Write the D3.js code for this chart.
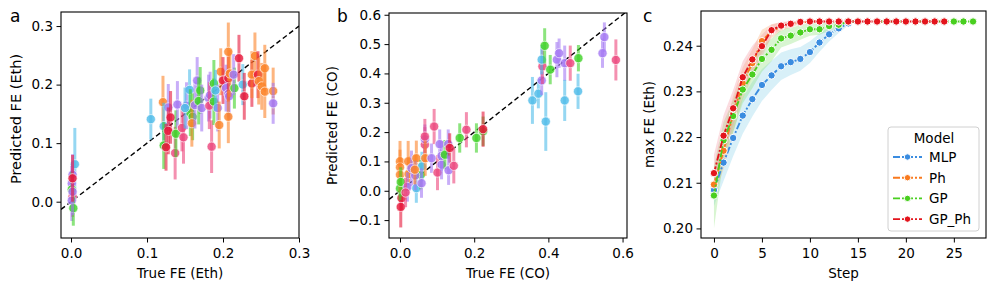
<!DOCTYPE html>
<html><head><meta charset="utf-8">
<script src="https://cdn.jsdelivr.net/npm/d3@7"></script>
<style>
body{margin:0;background:#fff;}
svg text{font-family:"DejaVu Sans",sans-serif;fill:#000;}
</style></head>
<body><svg id="c" width="996" height="291"></svg>
<script>
// ---------- Panel a data (True FE Eth, predicted, error, group) ----------
const aTrue = [0.005,0.002,0.001,0.001,0.002,0.001,0.003,0.002,0.002,
 0.105,0.121,0.128,0.122,0.122,0.131,0.128,0.125,0.137,0.138,0.140,0.146,0.148,0.152,0.156,0.157,0.160,0.159,0.163,0.166,0.170,0.168,0.172,0.181,0.183,0.182,0.185,0.188,0.188,0.193,0.195,0.197,0.200,0.204,0.207,0.208,0.207,0.207,0.207,0.209,0.215,0.214,0.221,0.226,0.228,0.238,0.238,0.242,0.246,0.247,0.251,0.255,0.255,0.266,0.266,0.190,0.150];
const aPred = [0.064,0.046,0.031,0.021,0.009,0.002,-0.011,0.017,0.040,
 0.141,0.170,0.161,0.129,0.096,0.144,0.121,0.093,0.083,0.116,0.166,0.126,0.110,0.164,0.191,0.152,0.145,0.134,0.165,0.207,0.190,0.172,0.160,0.177,0.182,0.164,0.094,0.202,0.171,0.160,0.131,0.222,0.207,0.194,0.184,0.180,0.211,0.145,0.256,0.219,0.194,0.217,0.245,0.200,0.180,0.202,0.217,0.249,0.217,0.206,0.197,0.228,0.188,0.189,0.168,0.190,0.160];
const aErr = [0.062,0.035,0.03,0.03,0.035,0.035,0.03,0.04,0.04,
 0.035,0.045,0.04,0.04,0.04,0.045,0.04,0.04,0.045,0.04,0.04,0.04,0.045,0.04,0.035,0.04,0.04,0.04,0.04,0.04,0.04,0.04,0.04,0.04,0.04,0.04,0.045,0.04,0.04,0.04,0.04,0.04,0.04,0.04,0.04,0.04,0.04,0.045,0.05,0.04,0.035,0.035,0.04,0.035,0.04,0.04,0.04,0.04,0.04,0.04,0.04,0.04,0.045,0.04,0.035,0.035,0.035];
const aGroup = [0,3,3,2,5,3,2,3,4,
 0,1,3,0,2,4,4,4,5,2,3,5,5,3,0,2,2,1,3,3,2,2,3,3,3,5,5,2,2,3,1,1,4,3,3,3,4,1,1,1,2,3,4,0,4,4,1,1,4,1,1,1,1,1,3,0,0];

// ---------- Panel b data (True FE CO, predicted, error, group) ----------
const bTrue = [0.004,0.002,0.000,0.000,0.000,0.000,0.002,0.022,0.023,0.020,0.015,0.031,0.044,0.044,0.056,0.041,0.059,0.058,0.067,0.067,0.067,0.068,0.092,0.085,0.101,0.107,0.112,0.112,0.121,0.130,0.134,0.131,0.145,0.161,0.179,0.206,0.224,0.224,0.040,
 0.357,0.373,0.382,0.384,0.382,0.390,0.393,0.405,0.423,0.429,0.444,0.444,0.459,0.481,0.480,0.546,0.551,0.582];
const bPred = [-0.025,-0.055,0.008,0.100,0.080,0.055,0.030,0.100,0.057,0.013,-0.006,0.077,0.111,0.009,0.055,0.052,0.083,0.026,0.157,0.176,0.185,0.111,0.219,0.111,0.062,0.159,0.089,0.119,0.123,0.159,0.146,0.070,0.085,0.180,0.208,0.180,0.203,0.210,0.072,
 0.308,0.331,0.376,0.424,0.447,0.494,0.236,0.413,0.447,0.469,0.435,0.308,0.435,0.452,0.339,0.469,0.524,0.446];
const bErr = [0.04,0.07,0.04,0.07,0.06,0.06,0.05,0.07,0.06,0.05,0.05,0.06,0.06,0.05,0.05,0.05,0.05,0.05,0.06,0.05,0.06,0.06,0.06,0.05,0.06,0.05,0.05,0.05,0.05,0.05,0.05,0.05,0.06,0.05,0.06,0.05,0.05,0.06,0.05,
 0.08,0.05,0.05,0.06,0.05,0.06,0.10,0.05,0.06,0.05,0.06,0.07,0.06,0.045,0.06,0.05,0.05,0.07];
const bGroup = [4,4,2,1,1,1,2,1,1,3,5,3,1,0,2,3,0,3,5,3,5,1,5,3,5,3,3,3,2,3,4,3,5,2,5,2,2,4,1,
 0,0,3,5,0,2,0,2,3,3,3,0,5,2,0,3,3,5];

const groupColors = ["#4fbce9","#fb842a","#3fd228","#a478f3","#e6173a","#ec467c"];

// ---------- Panel c data ----------
const models = ["MLP","Ph","GP","GP_Ph"];
const modelColors = ["#3a8ce0","#f97a1e","#49cf1f","#e3141c"];
const bandColors = ["#8fd3ec","#f9b07a","#8ee27c","#f39aa6"];
const mlpMean = [0.2084,0.2144,0.2198,0.2247,0.2283,0.2314,0.2335,0.2355,0.2364,0.2371,0.2386,0.2407,0.2425,0.2438,0.2449];
const mlpLow  = [0.2049,0.2104,0.2158,0.2207,0.2245,0.2279,0.2303,0.2325,0.2336,0.2345,0.2362,0.2387,0.2409,0.2428,0.2444];
const mlpHigh = [0.2119,0.2184,0.2238,0.2287,0.2321,0.2349,0.2367,0.2385,0.2392,0.2397,0.2410,0.2427,0.2441,0.2448,0.2453];
const phMean = [0.2096,0.2170,0.2250,0.2318,0.2362,0.2410,0.2432,0.2442,0.2447,0.2451,0.2453,0.2453,0.2453,0.2453];
const phLow  = [0.2066,0.2130,0.2210,0.2283,0.2332,0.2385,0.2417,0.2432,0.2440,0.2447,0.2451,0.2453,0.2453,0.2453];
const phHigh = [0.2126,0.2210,0.2290,0.2353,0.2392,0.2435,0.2447,0.2452,0.2453,0.2454,0.2454,0.2453,0.2453,0.2453];
const gpMean = [0.2072,0.2193,0.2246,0.2304,0.2337,0.2371,0.2391,0.2416,0.2422,0.2429,0.2436,0.2436,0.2443,0.2446,0.2453,0.2453,0.2453,0.2453,0.2453,0.2453,0.2453,0.2453,0.2453,0.2453,0.2453,0.2453,0.2453,0.2453];
const gpLow  = [0.2000,0.2153,0.2211,0.2274,0.2307,0.2343,0.2366,0.2396,0.2404,0.2413,0.2422,0.2424,0.2433,0.2439,0.2453,0.2453,0.2453,0.2453,0.2453,0.2453,0.2453,0.2453,0.2453,0.2453,0.2453,0.2453,0.2453,0.2453];
const gpHigh = [0.2137,0.2233,0.2281,0.2334,0.2367,0.2399,0.2416,0.2436,0.2440,0.2445,0.2450,0.2448,0.2453,0.2453,0.2453,0.2453,0.2453,0.2453,0.2453,0.2453,0.2453,0.2453,0.2453,0.2453,0.2453,0.2453,0.2453,0.2453];
const gpphMean = [0.2121,0.2203,0.2263,0.2331,0.2370,0.2399,0.2434,0.2444,0.2448,0.2452,0.2453,0.2453,0.2453,0.2453,0.2453,0.2453,0.2453,0.2453,0.2453,0.2453,0.2453,0.2453,0.2453,0.2453,0.2453];
const gpphLow  = [0.2081,0.2158,0.2223,0.2296,0.2340,0.2374,0.2422,0.2436,0.2443,0.2450,0.2453,0.2453,0.2453,0.2453,0.2453,0.2453,0.2453,0.2453,0.2453,0.2453,0.2453,0.2453,0.2453,0.2453,0.2453];
const gpphHigh = [0.2161,0.2248,0.2303,0.2366,0.2400,0.2424,0.2446,0.2452,0.2453,0.2454,0.2453,0.2453,0.2453,0.2453,0.2453,0.2453,0.2453,0.2453,0.2453,0.2453,0.2453,0.2453,0.2453,0.2453,0.2453];

const aTicks = [0.0,0.1,0.2,0.3];
const bXTicks = [0.0,0.2,0.4,0.6];
const bYTicks = [-0.1,0.0,0.1,0.2,0.3,0.4,0.5,0.6];
const cXTicks = [0,5,10,15,20,25];
const cYTicks = [0.20,0.21,0.22,0.23,0.24];

const svg = d3.select("#c");
const FS = 13.5;

function frame(g, x, y, xt, yt, xfmt, yfmt, xlabel, ylabel, letter, letterX, ylabX, ylabY, ylabFS) {
  const [x0,x1] = x.range(), [y1,y0] = y.range();
  const xa = g.append("g").attr("transform",`translate(0,${y1})`)
    .call(d3.axisBottom(x).tickValues(xt).tickFormat(xfmt).tickSize(4.5).tickPadding(5.5));
  const ya = g.append("g").attr("transform",`translate(${x0},0)`)
    .call(d3.axisLeft(y).tickValues(yt).tickFormat(yfmt).tickSize(4.5).tickPadding(3.5));
  [xa,ya].forEach(a=>{a.select(".domain").remove();a.selectAll("text").style("font-size",FS+"px").attr("fill","#000");a.selectAll("line").attr("stroke","#000").attr("stroke-width",1);});
  g.append("rect").attr("x",x0).attr("y",y0).attr("width",x1-x0).attr("height",y1-y0)
    .attr("fill","none").attr("stroke","#000").attr("stroke-width",1.1);
  g.append("text").attr("x",(x0+x1)/2).attr("y",278).attr("text-anchor","middle").style("font-size",FS+"px").text(xlabel);
  g.append("text").attr("transform",`translate(${ylabX},${ylabY}) rotate(-90)`).attr("text-anchor","middle").style("font-size",ylabFS+"px").text(ylabel);
  g.append("text").attr("x",letterX).attr("y",22).style("font-size","17px").text(letter);
}

function scatterPanel(g, x, y, tv, pv, ev, gv, clipId) {
  const [x0,x1] = x.range(), [y1,y0] = y.range();
  g.append("clipPath").attr("id",clipId).append("rect").attr("x",x0).attr("y",y0).attr("width",x1-x0).attr("height",y1-y0);
  const p = g.append("g").attr("clip-path",`url(#${clipId})`);
  const idx = d3.range(tv.length);
  const d0 = x.domain();
  p.append("line").attr("x1",x(d0[0])).attr("y1",y(d0[0])).attr("x2",x(d0[1])).attr("y2",y(d0[1]))
    .attr("stroke","#000").attr("stroke-width",1.4).attr("stroke-dasharray","5,3");
  idx.forEach(i=>{
    p.append("line").attr("x1",x(tv[i])).attr("x2",x(tv[i])).attr("y1",y(pv[i]-ev[i])).attr("y2",y(pv[i]+ev[i]))
      .attr("stroke",groupColors[gv[i]]).attr("stroke-width",3).attr("stroke-opacity",0.6);
    p.append("circle").attr("cx",x(tv[i])).attr("cy",y(pv[i])).attr("r",4.6)
      .attr("fill",groupColors[gv[i]]).attr("fill-opacity",0.82).attr("stroke","#fff").attr("stroke-width",0.8).attr("stroke-opacity",0.8);
  });
}

// Panel a
{
  const g = svg.append("g");
  const x = d3.scaleLinear().domain([-0.0132,0.3]).range([61,299]);
  const y = d3.scaleLinear().domain([-0.062,0.324]).range([238,12]);
  scatterPanel(g,x,y,aTrue,aPred,aErr,aGroup,"clipA");
  frame(g,x,y,aTicks,aTicks,d3.format(".1f"),d3.format(".1f"),"True FE (Eth)","Predicted FE (Eth)","a",10,21,119,14.5);
}
// Panel b
{
  const g = svg.append("g");
  const x = d3.scaleLinear().domain([-0.0297,0.612]).range([389,627]);
  const y = d3.scaleLinear().domain([-0.161,0.606]).range([238,13]);
  scatterPanel(g,x,y,bTrue,bPred,bErr,bGroup,"clipB");
  frame(g,x,y,bXTicks,bYTicks,d3.format(".1f"),v=>d3.format(".1f")(v).replace("-","\u2212"),"True FE (CO)","Predicted FE (CO)","b",337,337,125.5,FS);
}
// Panel c
{
  const g = svg.append("g");
  const x = d3.scaleLinear().domain([-1.35,28.35]).range([701,986]);
  const y = d3.scaleLinear().domain([0.1979,0.2476]).range([238,11]);
  const series = [[mlpMean,mlpLow,mlpHigh],[phMean,phLow,phHigh],[gpMean,gpLow,gpHigh],[gpphMean,gpphLow,gpphHigh]];
  series.forEach((s,k)=>{
    const area = d3.area().x((d,i)=>x(i)).y0((d,i)=>y(s[1][i])).y1((d,i)=>y(s[2][i]));
    g.append("path").attr("d",area(s[0])).attr("fill",bandColors[k]).attr("fill-opacity",0.35);
  });
  series.forEach((s,k)=>{
    const line = d3.line().x((d,i)=>x(i)).y(d=>y(d));
    g.append("path").attr("d",line(s[0])).attr("fill","none").attr("stroke",modelColors[k]).attr("stroke-width",1.9).attr("stroke-dasharray","7,2,2,2");
    g.selectAll(null).data(s[0]).enter().append("circle").attr("cx",(d,i)=>x(i)).attr("cy",d=>y(d)).attr("r",3.7)
      .attr("fill",modelColors[k]).attr("stroke","#fff").attr("stroke-width",1);
  });
  frame(g,x,y,cXTicks,cYTicks,d3.format("d"),d3.format(".2f"),"Step","max FE (Eth)","c",643,654,124.5,FS);
  // legend
  const lg = g.append("g");
  lg.append("rect").attr("x",888).attr("y",127).attr("width",91).attr("height",104).attr("rx",3)
    .attr("fill","#fff").attr("fill-opacity",0.85).attr("stroke","#d0d0d0").attr("stroke-width",1);
  lg.append("text").attr("x",934).attr("y",143).attr("text-anchor","middle").style("font-size",FS+"px").text("Model");
  models.forEach((m,k)=>{
    const yy = 157 + k*20.7;
    lg.append("line").attr("x1",893).attr("x2",922).attr("y1",yy).attr("y2",yy).attr("stroke",modelColors[k]).attr("stroke-width",1.9).attr("stroke-dasharray","7,2,2,2");
    lg.append("circle").attr("cx",907.5).attr("cy",yy).attr("r",3.2).attr("fill",modelColors[k]).attr("stroke","#fff").attr("stroke-width",1);
    lg.append("text").attr("x",929).attr("y",yy+5).style("font-size",FS+"px").text(m);
  });
}
</script></body></html>
